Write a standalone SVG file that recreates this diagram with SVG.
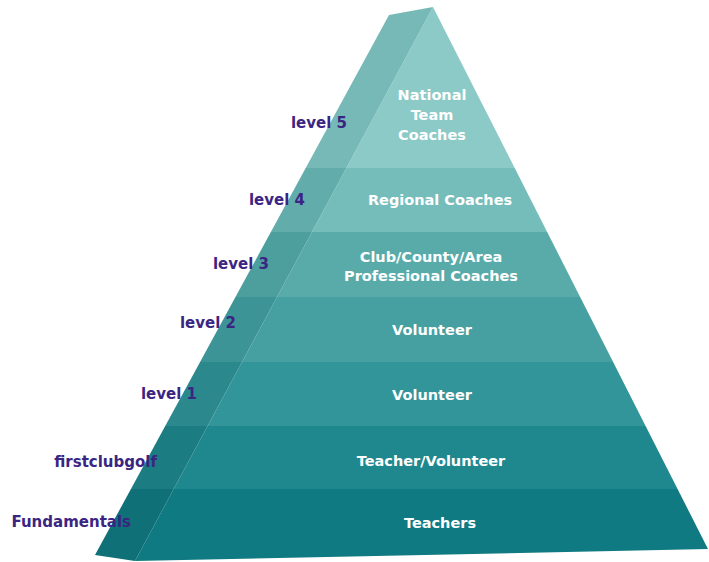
<svg xmlns="http://www.w3.org/2000/svg" width="709" height="562" viewBox="0 0 709 562">
  <style>
    .lbl { font-family: "DejaVu Sans", "Liberation Sans", sans-serif; font-weight: bold; font-size: 15px; fill: #3b2583; text-anchor: end; }
    .in { font-family: "DejaVu Sans", "Liberation Sans", sans-serif; font-weight: bold; font-size: 14.5px; fill: #ffffff; text-anchor: middle; }
  </style>
  <defs>
    <clipPath id="front"><polygon points="433,7 708,549 135,561"/></clipPath>
    <clipPath id="left"><polygon points="389,15 433,7 135,561 95,555"/></clipPath>
  </defs>
  <rect width="709" height="562" fill="#ffffff"/>
  <g id="pyramid">
    <g id="front-face" clip-path="url(#front)">
      <rect x="0" y="0" width="709" height="168" fill="#8ccac7"/>
      <rect x="0" y="168" width="709" height="64" fill="#75bdbb"/>
      <rect x="0" y="232" width="709" height="65" fill="#59abaa"/>
      <rect x="0" y="297" width="709" height="65" fill="#46a0a2"/>
      <rect x="0" y="362" width="709" height="64" fill="#32959a"/>
      <rect x="0" y="426" width="709" height="63" fill="#1f888f"/>
      <rect x="0" y="489" width="709" height="73" fill="#107a82"/>
    </g>
    <g id="left-face" clip-path="url(#left)">
      <rect x="0" y="0" width="709" height="168" fill="#77b9b7"/>
      <rect x="0" y="168" width="709" height="64" fill="#62adab"/>
      <rect x="0" y="232" width="709" height="65" fill="#4d9f9e"/>
      <rect x="0" y="297" width="709" height="65" fill="#3c9496"/>
      <rect x="0" y="362" width="709" height="64" fill="#2b898d"/>
      <rect x="0" y="426" width="709" height="63" fill="#1b7d82"/>
      <rect x="0" y="489" width="709" height="73" fill="#0f7077"/>
    </g>
  </g>
  <g id="tier-national">
    <text class="in" x="432" y="100">National</text>
    <text class="in" x="432" y="120">Team</text>
    <text class="in" x="432" y="140">Coaches</text>
    <text class="lbl" x="347" y="128">level 5</text>
  </g>
  <g id="tier-regional">
    <text class="in" x="440" y="205">Regional Coaches</text>
    <text class="lbl" x="305" y="205">level 4</text>
  </g>
  <g id="tier-club">
    <text class="in" x="431" y="262">Club/County/Area</text>
    <text class="in" x="431" y="281">Professional Coaches</text>
    <text class="lbl" x="269" y="269">level 3</text>
  </g>
  <g id="tier-volunteer2">
    <text class="in" x="432" y="335">Volunteer</text>
    <text class="lbl" x="236" y="328">level 2</text>
  </g>
  <g id="tier-volunteer1">
    <text class="in" x="432" y="400">Volunteer</text>
    <text class="lbl" x="197" y="399">level 1</text>
  </g>
  <g id="tier-teacher-volunteer">
    <text class="in" x="431" y="466">Teacher/Volunteer</text>
    <text class="lbl" x="157" y="467">firstclubgolf</text>
  </g>
  <g id="tier-teachers">
    <text class="in" x="440" y="528">Teachers</text>
    <text class="lbl" x="131" y="527">Fundamentals</text>
  </g>
  <g id="connectors"/>
</svg>
